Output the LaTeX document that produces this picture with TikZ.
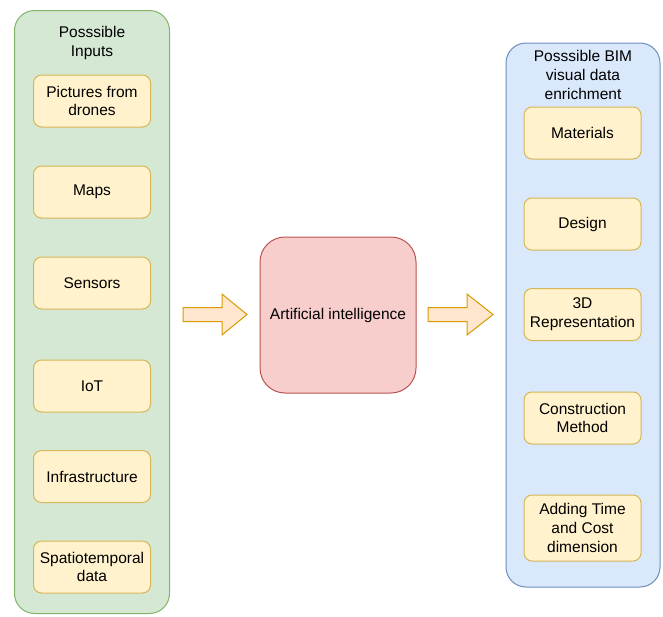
\documentclass[tikz,border=0pt]{standalone}
\usepackage{fontspec}
\setmainfont{Liberation Sans}
\usepackage{xcolor}

\definecolor{grnfill}{HTML}{D5E8D4}
\definecolor{grnline}{HTML}{82B366}
\definecolor{ylwfill}{HTML}{FFF2CC}
\definecolor{ylwline}{HTML}{D6B656}
\definecolor{redfill}{HTML}{F8CECC}
\definecolor{redline}{HTML}{B85450}
\definecolor{blufill}{HTML}{DAE8FC}
\definecolor{bluline}{HTML}{6C8EBF}
\definecolor{arrfill}{HTML}{FFE6CC}
\definecolor{arrline}{HTML}{D79B00}

\tikzset{
    groupbox/.style={rounded corners=20pt, line width=1pt, minimum width=155pt},
    itembox/.style={draw=ylwline, fill=ylwfill, rounded corners=8pt, line width=1pt,
        minimum width=117pt, minimum height=52pt, align=center, inner sep=2pt},
    blockarrow/.style={draw=arrline, fill=arrfill, line width=1pt, line join=miter},
}

\begin{document}
\begin{tikzpicture}[x=1pt, y=-1pt, font=\fontsize{15.5}{18.7}\selectfont]
    \useasboundingbox (0,0) rectangle (663,616);

    % Inputs
    \node[groupbox, draw=grnline, fill=grnfill, minimum height=603pt] (inputs) at (92,312) {};
    \node[align=center] (inputstitle) at (92,43) {Posssible\\Inputs};
    \node[itembox] (drones) at (92,101) {Pictures from\\drones};
    \node[itembox] (maps) at (92,192) {Maps};
    \node[itembox] (sensors) at (92,283) {Sensors};
    \node[itembox] (iot) at (92,386) {IoT};
    \node[itembox] (infra) at (92,476.5) {Infrastructure};
    \node[itembox] (spatio) at (92,567) {Spatiotemporal\\data};

    % AI
    \node[draw=redline, fill=redfill, rounded corners=25pt, line width=1pt,
        minimum width=156pt, minimum height=156pt] (ai) at (338,315) {Artificial intelligence};

    % Block arrows
    \draw[blockarrow] (183,307.5) -- (222,307.5) -- (222,294) -- (247,314.5)
        -- (222,335) -- (222,321.5) -- (183,321.5) -- cycle;
    \draw[blockarrow] (428,307.5) -- (467,307.5) -- (467,294) -- (493,314.5)
        -- (467,335) -- (467,321.5) -- (428,321.5) -- cycle;

    % BIM enrichment
    \node[groupbox, draw=bluline, fill=blufill, minimum width=154pt, minimum height=544pt] (bim) at (583,315) {};
    \node[align=center] (bimtitle) at (583,75) {Posssible BIM\\visual data\\enrichment};
    \node[itembox] (materials) at (582.5,133) {Materials};
    \node[itembox] (design) at (582.5,224) {Design};
    \node[itembox] (threed) at (582.5,314.5) {3D\\Representation};
    \node[itembox] (method) at (582.5,418) {Construction\\Method};
    \node[itembox, minimum height=66pt] (timecost) at (582.5,528) {Adding Time\\and Cost\\dimension};
\end{tikzpicture}
\end{document}
